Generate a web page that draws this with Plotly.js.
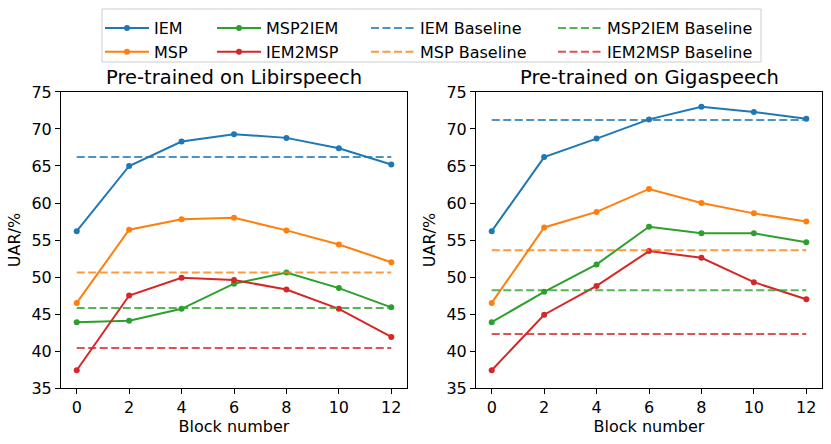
<!DOCTYPE html>
<html>
<head>
<meta charset="utf-8">
<script src="https://cdn.plot.ly/plotly-3.0.1.min.js"></script>
<style>
  html, body { margin: 0; padding: 0; background: #fff; }
  #chart { width: 831px; height: 444px; }
</style>
</head>
<body>
<div id="chart"></div>
<script>
// block numbers on the x axis
var blocks = [0, 2, 4, 6, 8, 10, 12];

// Pre-trained on Libirspeech
var libriIEM = [56.2, 65.0, 68.3, 69.3, 68.8, 67.4, 65.2];
var libriMSP = [46.5, 56.4, 57.8, 58.0, 56.3, 54.4, 52.0];
var libriMSP2IEM = [43.9, 44.1, 45.7, 49.1, 50.6, 48.5, 45.9];
var libriIEM2MSP = [37.4, 47.5, 49.9, 49.6, 48.3, 45.7, 41.9];
var libriBaselines = [66.2, 50.6, 45.8, 40.4]; // IEM, MSP, MSP2IEM, IEM2MSP

// Pre-trained on Gigaspeech
var gigaIEM = [56.2, 66.2, 68.7, 71.3, 73.0, 72.3, 71.4];
var gigaMSP = [46.5, 56.7, 58.8, 61.9, 60.0, 58.6, 57.5];
var gigaMSP2IEM = [43.9, 48.0, 51.7, 56.8, 55.9, 55.9, 54.7];
var gigaIEM2MSP = [37.4, 44.9, 48.8, 53.5, 52.6, 49.3, 47.0];
var gigaBaselines = [71.2, 53.6, 48.2, 42.3];

var seriesNames = ["IEM", "MSP", "MSP2IEM", "IEM2MSP"];
var yTicks = [35, 40, 45, 50, 55, 60, 65, 70, 75];

var colors = ["#1f77b4", "#ff7f0e", "#2ca02c", "#d62728"];
var baseColors = ["rgba(31,119,180,0.8)", "rgba(255,127,14,0.8)", "rgba(44,160,44,0.8)", "rgba(214,39,40,0.8)"];
// which legend column each entry goes to (matplotlib ncol=4, column-major)
var lineLegends = ["legend", "legend", "legend2", "legend2"];
var baseLegends = ["legend3", "legend3", "legend4", "legend4"];

var FONT = "DejaVu Sans, sans-serif";

function makeTraces(series, baselines, xa, ya, first) {
    var traces = [];
    series.forEach(function (vals, i) {
        traces.push({
            type: "scatter", mode: "lines+markers",
            x: blocks, y: vals, name: seriesNames[i],
            xaxis: xa, yaxis: ya,
            line: { color: colors[i], width: 2 },
            marker: { color: colors[i], size: 6 },
            showlegend: first, legend: lineLegends[i]
        });
    });
    baselines.forEach(function (b, i) {
        traces.push({
            type: "scatter", mode: "lines",
            x: blocks, y: blocks.map(function () { return b; }),
            name: seriesNames[i] + " Baseline",
            xaxis: xa, yaxis: ya,
            line: { color: baseColors[i], width: 2, dash: "8px,3.5px" },
            showlegend: first, legend: baseLegends[i]
        });
    });
    return traces;
}

var data = makeTraces([libriIEM, libriMSP, libriMSP2IEM, libriIEM2MSP], libriBaselines, "x", "y", true)
    .concat(makeTraces([gigaIEM, gigaMSP, gigaMSP2IEM, gigaIEM2MSP], gigaBaselines, "x2", "y2", false));

function xAxis(domain, anchor) {
    return {
        domain: domain, anchor: anchor, range: [-0.6, 12.6],
        tickvals: blocks, ticks: "outside", ticklen: 5, tickcolor: "#000",
        showline: true, linecolor: "#000", linewidth: 1, mirror: true,
        showgrid: false, zeroline: false,
        tickfont: { size: 16, color: "#000" },
        title: { text: "Block number", font: { size: 16, color: "#000" }, standoff: 4 }
    };
}
function yAxis(anchor) {
    return {
        domain: [0.1261, 0.7928], anchor: anchor, range: [35, 75],
        tickvals: yTicks, ticks: "outside", ticklen: 5, tickcolor: "#000",
        showline: true, linecolor: "#000", linewidth: 1, mirror: true,
        showgrid: false, zeroline: false,
        tickfont: { size: 16, color: "#000" },
        title: { text: "UAR/%", font: { size: 16, color: "#000" }, standoff: 6 }
    };
}

function legendAt(px) {
    return {
        x: px / 831, xanchor: "left", y: 1 - 11 / 444, yanchor: "top",
        bgcolor: "rgba(0,0,0,0)", borderwidth: 0, itemwidth: 44,
        font: { size: 16, color: "#000" }, tracegroupgap: 0
    };
}

var layout = {
    width: 831, height: 444,
    margin: { l: 0, r: 0, t: 0, b: 0 },
    paper_bgcolor: "#fff", plot_bgcolor: "#fff",
    font: { family: FONT, color: "#000" },
    xaxis: xAxis([0.0734, 0.4898], "y"),
    yaxis: yAxis("x"),
    xaxis2: xAxis([0.5728, 0.9892], "y2"),
    yaxis2: yAxis("x2"),
    legend: legendAt(100),
    legend2: legendAt(212),
    legend3: legendAt(366),
    legend4: legendAt(553),
    shapes: [{
        type: "rect", xref: "paper", yref: "paper",
        x0: 102 / 831, x1: 761 / 831, y0: 1 - 62 / 444, y1: 1 - 9 / 444,
        line: { color: "#cccccc", width: 1 }
    }],
    annotations: [
        { text: "Pre-trained on Libirspeech", xref: "paper", yref: "paper",
          x: 234 / 831, y: 1 - 77 / 444, xanchor: "center", yanchor: "middle",
          showarrow: false, font: { size: 19.5, color: "#000" } },
        { text: "Pre-trained on Gigaspeech", xref: "paper", yref: "paper",
          x: 649 / 831, y: 1 - 77 / 444, xanchor: "center", yanchor: "middle",
          showarrow: false, font: { size: 19.5, color: "#000" } }
    ]
};

Plotly.newPlot("chart", data, layout, { staticPlot: true });
</script>
</body>
</html>
